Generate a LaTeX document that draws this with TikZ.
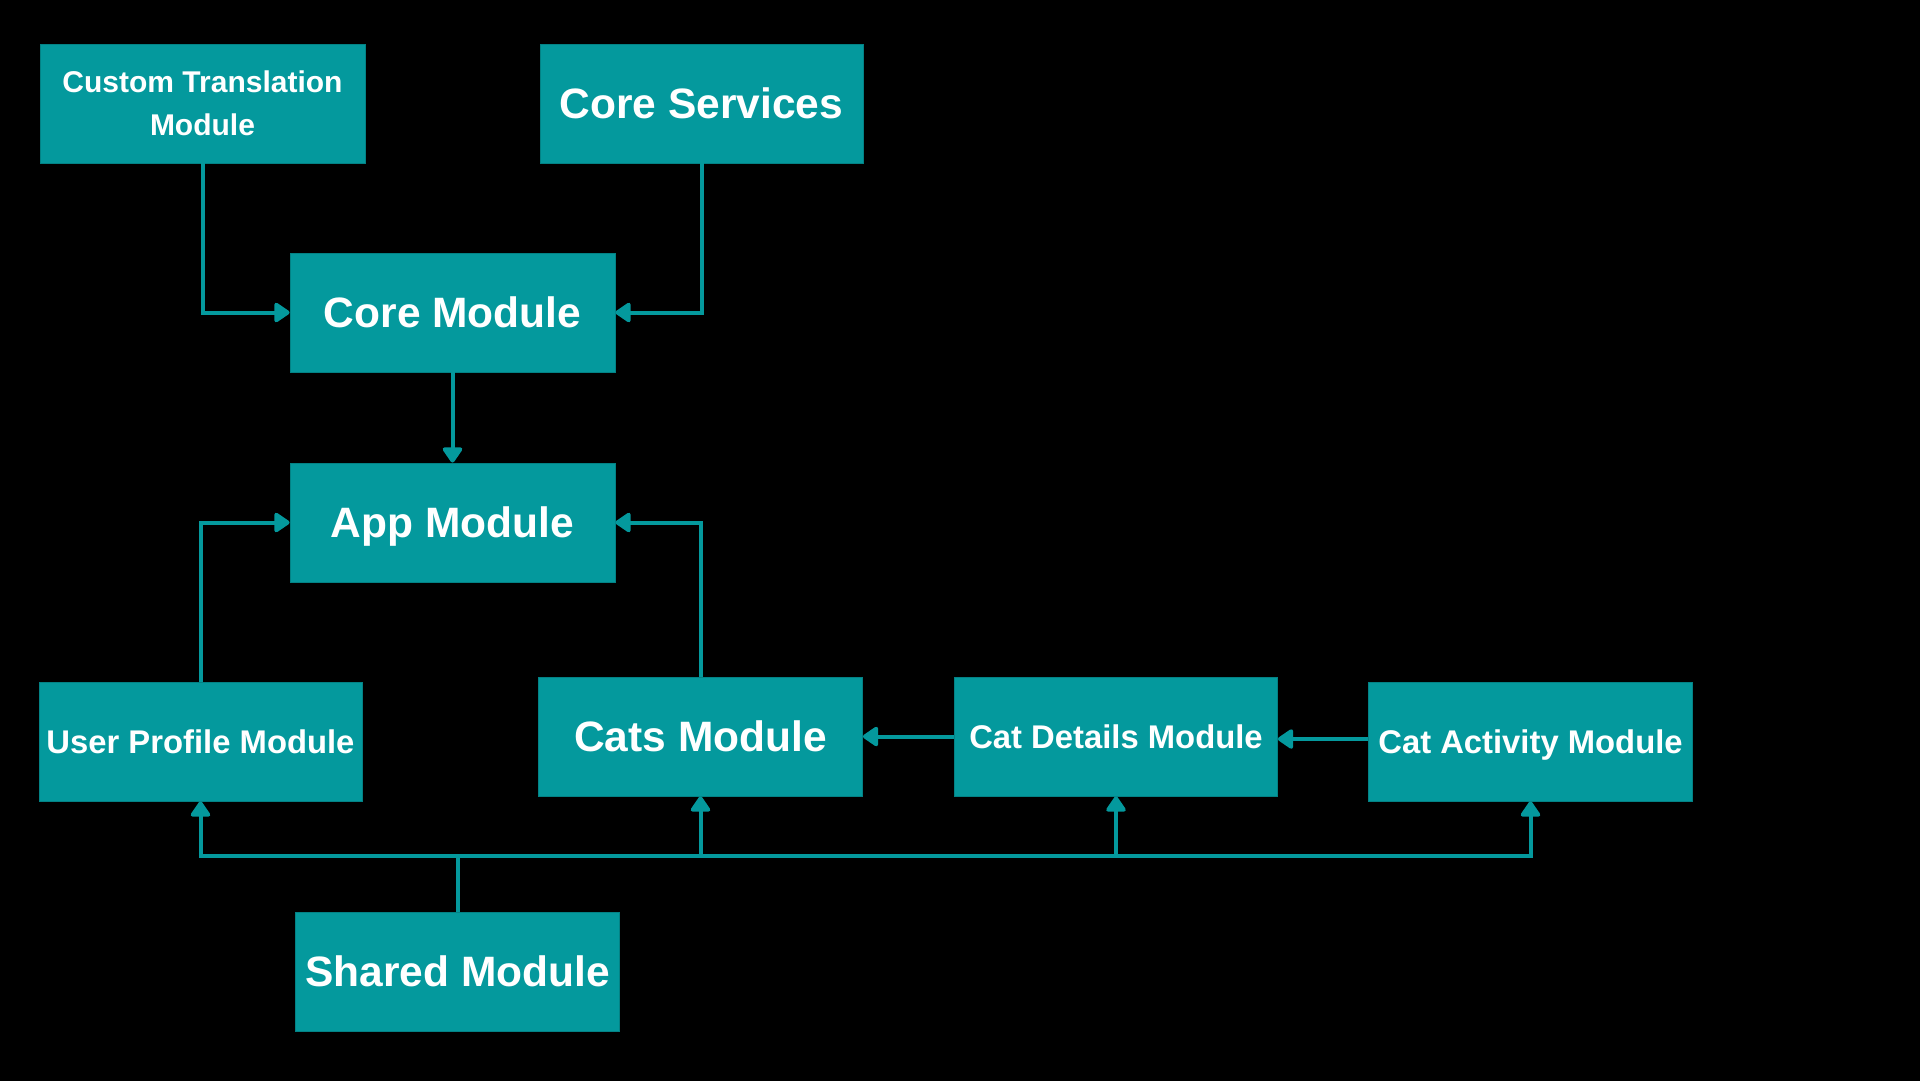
\documentclass[tikz,border=0pt]{standalone}
\usepackage{fontspec}
\setmainfont{Liberation Sans}
\usetikzlibrary{arrows.meta}
\definecolor{teal1}{HTML}{04999D}
\tikzset{
  box/.style={rectangle, fill=teal1, draw=teal1!85!black, line width=0.8pt, text=white, font=\bfseries, inner sep=0pt, align=center},
  big/.style={box, font=\fontsize{42.5}{50}\selectfont\bfseries, text height=30.4pt, text depth=0pt},
  mid/.style={box, font=\fontsize{32.8}{40}\selectfont\bfseries, text height=23.5pt, text depth=0pt},
  small/.style={box, font=\fontsize{30}{43}\selectfont\bfseries},
  conn/.style={draw=teal1, line width=4pt},
  arr/.style={conn, -{Triangle[length=17pt 0,width=22pt 0,round]}},
}
\begin{document}
\begin{tikzpicture}[x=1pt,y=-1pt]
\useasboundingbox (0,0) rectangle (1920,1080);
\fill[black] (-6,-6) rectangle (1926,1086);
\node[small, minimum width=325pt, minimum height=119pt] (ct) at (202.5,103.5) {Custom Translation\\Module};
\node[big, minimum width=323pt, minimum height=119pt] (cs) at (701.5,103.5) {Core Services};
\node[big, minimum width=325pt, minimum height=119pt] (core) at (452.5,312.5) {Core Module};
\node[big, minimum width=325pt, minimum height=119pt] (app) at (452.5,522.5) {App Module};
\node[mid, minimum width=323pt, minimum height=119pt] (up) at (200.5,741.5) {User Profile Module};
\node[big, minimum width=324pt, minimum height=119pt] (cats) at (700.5,736.5) {Cats Module};
\node[mid, minimum width=323pt, minimum height=119pt] (cd) at (1116,736.5) {Cat Details Module};
\node[mid, minimum width=324pt, minimum height=119pt] (ca) at (1530.5,741.5) {Cat Activity Module};
\node[big, minimum width=324pt, minimum height=119pt] (sh) at (457.5,971.5) {Shared Module};
\coordinate (bus) at (457.5,856);
\coordinate (row) at (0,739);
% connectors
\draw[arr] (ct.south) |- (core.west);
\draw[arr] (cs.south) |- (core.east);
\draw[arr] (core.south) -- (app.north);
\draw[arr] (up.north) |- (app.west);
\draw[arr] (cats.north) |- (app.east);
\draw[arr] (cd.west) -- (cats.east);
\draw[arr] (ca.west |- row) -- (cd.east |- row);
\draw[conn] (sh.north) -- (bus);
\draw[arr] (bus) -| (up.south);
\draw[arr] (bus) -| (cats.south);
\draw[arr] (bus) -| (cd.south);
\draw[arr] (bus) -| (ca.south);
\end{tikzpicture}
\end{document}
